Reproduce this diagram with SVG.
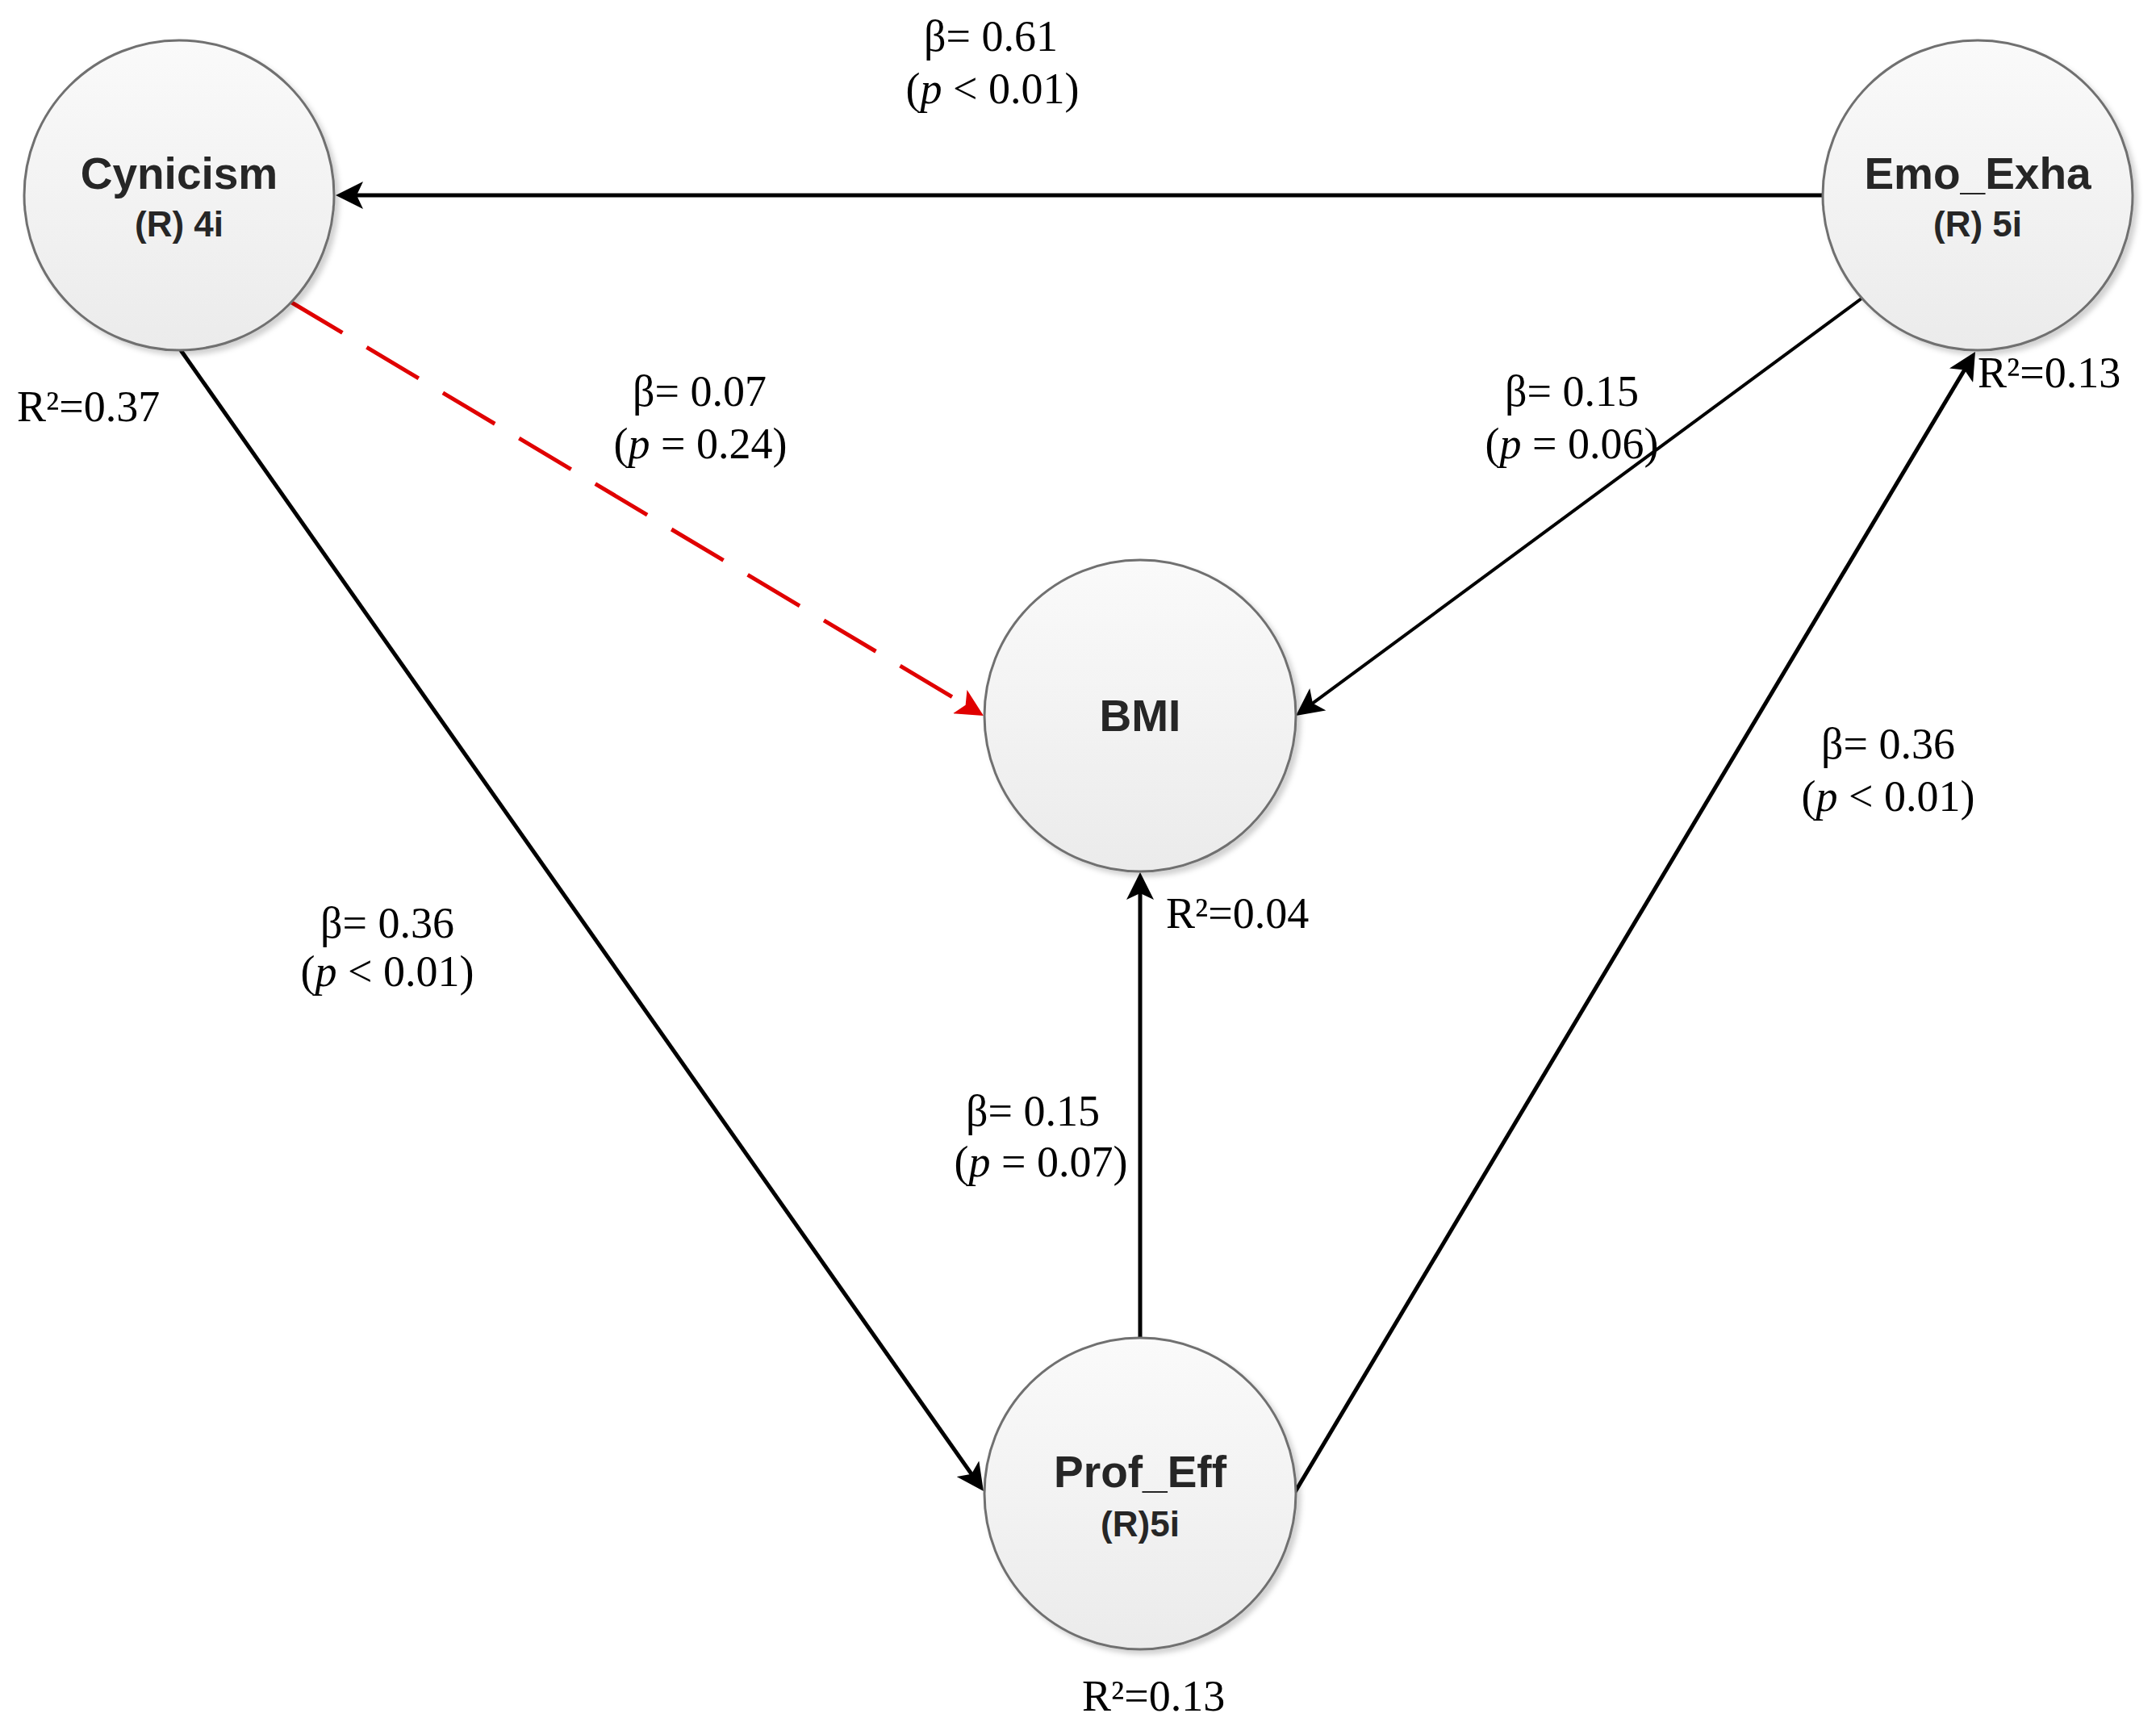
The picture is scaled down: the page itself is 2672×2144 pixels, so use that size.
<svg xmlns="http://www.w3.org/2000/svg" width="2672" height="2144" viewBox="0 0 2672 2144">
<style>
.node{fill:url(#nodeFill);stroke:#707070;stroke-width:3;filter:url(#shadow)}
.name{font-family:"Liberation Sans",Arial,sans-serif;font-weight:bold;font-size:55px;fill:#262626;text-anchor:middle}
.sub{font-family:"Liberation Sans",Arial,sans-serif;font-weight:bold;font-size:44px;fill:#262626;text-anchor:middle}
.lbl{font-family:"Liberation Serif","Times New Roman",serif;font-size:54px;fill:#000;text-anchor:middle}
.r2{font-family:"Liberation Serif","Times New Roman",serif;font-size:54px;fill:#000}
.edge{fill:none;stroke:#000;stroke-width:5}
.dash{fill:none;stroke:#e00000;stroke-width:5;stroke-dasharray:75 35}
</style>
<defs>
<linearGradient id="nodeFill" x1="0" y1="0" x2="0" y2="1">
<stop offset="0" stop-color="#fafafa"/>
<stop offset="1" stop-color="#ebebeb"/>
</linearGradient>
<filter id="shadow" x="-10%" y="-10%" width="130%" height="130%">
<feDropShadow dx="5" dy="5" stdDeviation="3" flood-color="#000" flood-opacity="0.18"/>
</filter>
<marker id="arrow" viewBox="0 0 34 34" refX="28" refY="17" markerWidth="34" markerHeight="34" markerUnits="userSpaceOnUse" orient="auto">
<path d="M0,0 L34,17 L0,34 L8,17 Z" fill="#000"/>
</marker>
<marker id="arrowRed" viewBox="0 0 34 34" refX="28" refY="17" markerWidth="34" markerHeight="34" markerUnits="userSpaceOnUse" orient="auto">
<path d="M0,0 L34,17 L0,34 L8,17 Z" fill="#e00000"/>
</marker>
</defs>
<rect width="2672" height="2144" fill="#fff"/>
<g id="connectors">
<line class="edge" x1="2259" y1="242" x2="422" y2="242" marker-end="url(#arrow)"/>
<line class="edge" x1="224" y1="434" x2="1215.5" y2="1843.1" marker-end="url(#arrow)"/>
<line class="edge" x1="1413" y1="1657" x2="1413" y2="1087" marker-end="url(#arrow)"/>
<line class="edge" x1="1605" y1="1849" x2="2444.9" y2="441.2" marker-end="url(#arrow)"/>
<line class="edge" style="stroke-width:4" x1="2311" y1="367" x2="1610.8" y2="883.4" marker-end="url(#arrow)"/>
<line class="dash" x1="360" y1="374" x2="1213.8" y2="883.9" marker-end="url(#arrowRed)"/>
</g>
<g id="Cynicism">
<circle class="node" cx="222" cy="242" r="192"/>
<text class="name" x="222" y="234">Cynicism</text>
<text class="sub" x="222" y="293">(R) 4i</text>
</g>
<g id="Emo_Exha">
<circle class="node" cx="2451" cy="242" r="192"/>
<text class="name" x="2451" y="234">Emo_Exha</text>
<text class="sub" x="2451" y="293">(R) 5i</text>
</g>
<g id="BMI">
<circle class="node" cx="1413" cy="887" r="193"/>
<text class="name" x="1413" y="906">BMI</text>
</g>
<g id="Prof_Eff">
<circle class="node" cx="1413" cy="1851" r="193"/>
<text class="name" x="1413" y="1843">Prof_Eff</text>
<text class="sub" x="1413" y="1904">(R)5i</text>
</g>
<g id="labels">
<text class="lbl" x="1228" y="63">β= 0.61</text>
<text class="lbl" x="1230" y="128">(<tspan font-style="italic">p</tspan> &lt; 0.01)</text>
<text class="lbl" x="867" y="503">β= 0.07</text>
<text class="lbl" x="868" y="568">(<tspan font-style="italic">p</tspan> = 0.24)</text>
<text class="lbl" x="1948" y="503">β= 0.15</text>
<text class="lbl" x="1948" y="568">(<tspan font-style="italic">p</tspan> = 0.06)</text>
<text class="lbl" x="2340" y="940">β= 0.36</text>
<text class="lbl" x="2340" y="1005">(<tspan font-style="italic">p</tspan> &lt; 0.01)</text>
<text class="lbl" x="480" y="1162">β= 0.36</text>
<text class="lbl" x="480" y="1222">(<tspan font-style="italic">p</tspan> &lt; 0.01)</text>
<text class="lbl" x="1280" y="1395">β= 0.15</text>
<text class="lbl" x="1290" y="1458">(<tspan font-style="italic">p</tspan> = 0.07)</text>
<text class="r2" x="21" y="522">R²=0.37</text>
<text class="r2" x="2451" y="480">R²=0.13</text>
<text class="r2" x="1445" y="1150">R²=0.04</text>
<text class="r2" x="1341" y="2120">R²=0.13</text>
</g>
</svg>
